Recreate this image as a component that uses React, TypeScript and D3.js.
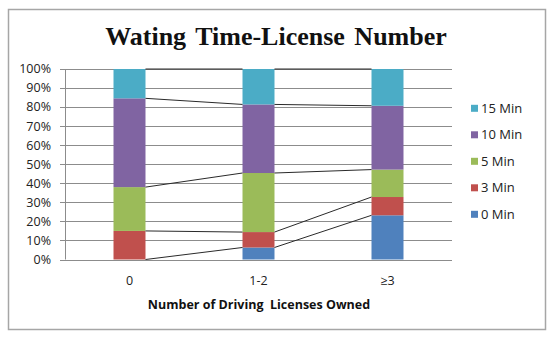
import React from 'react';
import * as d3 from 'd3';

const categories = ['0', '1-2', '≥3'];
const seriesNames = ['0 Min', '3 Min', '5 Min', '10 Min', '15 Min'];
const min0 = [0, 6.3, 23.2];
const min3 = [15, 8.1, 9.6];
const min5 = [23, 31, 14.4];
const min10 = [46.6, 36, 33.5];
const min15 = [15.4, 18.6, 19.3];
const colors = ['#4F81BD', '#C0504D', '#9BBB59', '#8064A2', '#4BACC6'];
const yTicks = [0, 10, 20, 30, 40, 50, 60, 70, 80, 90, 100];

const font = '"Open Sans", "Liberation Sans", sans-serif';

function App() {
  const width = 550;
  const height = 337;
  const plot = { left: 65, right: 452, top: 69, bottom: 259.5 };

  const rows = categories.map((c, i) => ({
    cat: c,
    '0 Min': min0[i],
    '3 Min': min3[i],
    '5 Min': min5[i],
    '10 Min': min10[i],
    '15 Min': min15[i],
  }));
  const stacked = d3.stack<any>().keys(seriesNames)(rows);

  const x = d3.scaleBand().domain(categories).range([plot.left, plot.right]).paddingInner(0.752).paddingOuter(0.376);
  const y = d3.scaleLinear().domain([0, 100]).range([plot.bottom, plot.top]);
  const bw = x.bandwidth();

  return (
    <svg width={width} height={height} style={{ position: 'absolute', left: 0, top: 0, background: '#fff' }}>
      <rect x={8.5} y={9.5} width={537} height={320} fill="#fff" stroke="#a6a6a6" strokeWidth={1.5} />
      <text x={276} y={45} textAnchor="middle" fontFamily='"Liberation Serif", "Times New Roman", serif'
        fontWeight="bold" fontSize={26} wordSpacing={3} fill="#111">Wating Time-License Number</text>

      {/* gridlines */}
      {yTicks.map(t => (
        <line key={t} x1={plot.left - 5} x2={plot.right} y1={Math.round(y(t)) + 0.5} y2={Math.round(y(t)) + 0.5}
          stroke="#8c8c8c" strokeWidth={1} />
      ))}
      <line x1={plot.left + 0.5} x2={plot.left + 0.5} y1={plot.top} y2={plot.bottom} stroke="#8c8c8c" />
      {yTicks.map(t => (
        <text key={t} x={51} y={y(t)} dy="0.35em" textAnchor="end" fontFamily={font} fontSize={12.5} fill="#222">{t}%</text>
      ))}

      {/* bars */}
      {stacked.map((s, si) => (
        <g key={s.key} fill={colors[si]}>
          {s.map((d, i) => (
            <rect key={i} x={x(categories[i])} y={y(d[1])} width={bw} height={y(d[0]) - y(d[1])} />
          ))}
        </g>
      ))}

      {/* series lines */}
      {stacked.map(s => (
        <g key={s.key} stroke="#2a2a2a" strokeWidth={1}>
          {s.slice(0, -1).map((d, i) => (
            <line key={i} x1={(x(categories[i]) as number) + bw} y1={y(d[1])}
              x2={x(categories[i + 1]) as number} y2={y(s[i + 1][1])} />
          ))}
        </g>
      ))}

      {categories.map(c => (
        <text key={c} x={(x(c) as number) + bw / 2} y={281} dy="0.35em" textAnchor="middle" fontFamily={font} fontSize={12.5} fill="#222">{c}</text>
      ))}
      <text x={259} y={305} dy="0.35em" textAnchor="middle" fontFamily={font} fontWeight="bold" fontSize={12.5}
        style={{ whiteSpace: 'pre' }} fill="#111">
        {'Number of Driving  Licenses Owned'}
      </text>

      {/* legend */}
      {seriesNames.slice().reverse().map((n, i) => {
        const cy = 108.3 + i * 26.5;
        return (
          <g key={n}>
            <rect x={471} y={cy - 3.5} width={7} height={7} fill={colors[seriesNames.length - 1 - i]} />
            <text x={481} y={cy} dy="0.35em" fontFamily={font} fontSize={13} fill="#222">{n}</text>
          </g>
        );
      })}
    </svg>
  );
}

export default App;
